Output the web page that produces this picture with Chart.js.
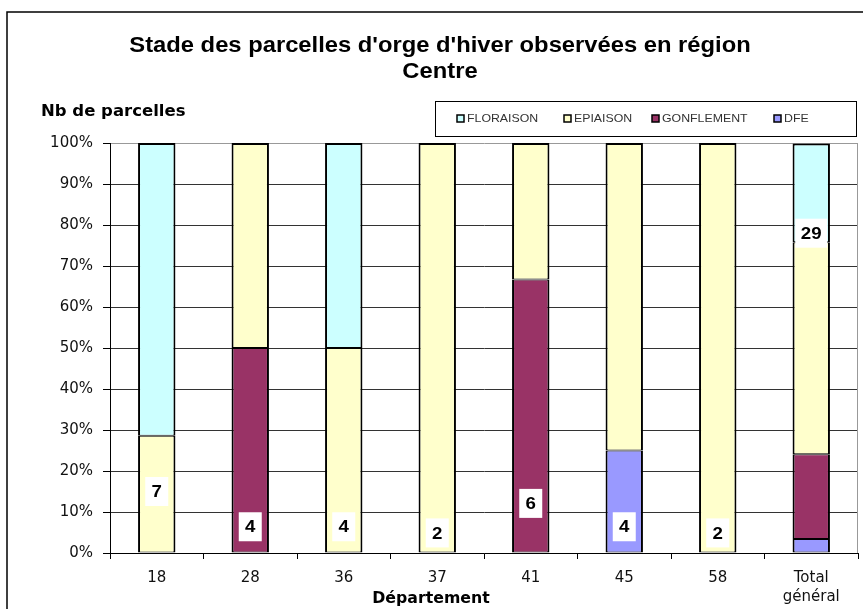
<!DOCTYPE html>
<html>
<head>
<meta charset="utf-8">
<script src="https://cdn.jsdelivr.net/npm/chart.js@4.4.1/dist/chart.umd.min.js"></script>
<style>
  html, body { margin: 0; padding: 0; background: #fff; }
  #wrap { width: 863px; height: 609px; position: relative; }
</style>
</head>
<body>
<div id="wrap"><canvas id="stadeChart"></canvas></div>
<script>
const categories = ['18', '28', '36', '37', '41', '45', '58', ['Total', 'général']];
// part des parcelles (%) par stade
const floraison  = [71.4, 0, 50, 0, 0, 0, 0, 24.1];
const epiaison   = [28.6, 50, 50, 100, 33.3, 75, 100, 51.7];
const gonflement = [0, 50, 0, 0, 66.7, 0, 0, 20.7];
const dfe        = [0, 0, 0, 0, 0, 25, 0, 3.4];
// nombre de parcelles observées
const totals = [7, 4, 4, 2, 6, 4, 2, 29];
const yTicks = [0, 10, 20, 30, 40, 50, 60, 70, 80, 90, 100];

const FONT = '"Liberation Sans", Arial, sans-serif';
const WIDE = '"DejaVu Sans", sans-serif';

// hauteur (en %) où Excel a posé l'étiquette du total
const labelAt = [15, 6.4, 6.4, 4.9, 12.1, 6.4, 4.9, 78];

// texte un peu élargi, comme le rendu GDI de l'original
function wideText(c, txt, x, y, sx) {
  c.save();
  c.translate(x, y);
  c.scale(sx, 1);
  c.fillText(txt, 0, 0);
  c.restore();
}

const decor = {
  id: 'decor',
  beforeDraw(chart) {
    const c = chart.ctx;
    c.save();
    c.fillStyle = '#fff';
    c.fillRect(0, 0, chart.width, chart.height);
    c.strokeStyle = '#000';
    c.lineWidth = 1.5;
    c.strokeRect(7, 12, chart.width + 10, chart.height + 10);

    c.fillStyle = '#000';
    c.textAlign = 'center';
    c.textBaseline = 'middle';
    c.font = 'bold 22px ' + FONT;
    wideText(c, "Stade des parcelles d'orge d'hiver observées en région", 440, 46, 1.08);
    wideText(c, 'Centre', 440, 72, 1.08);

    c.textAlign = 'left';
    c.font = 'bold 15px ' + WIDE;
    wideText(c, 'Nb de parcelles', 41, 112, 1.1);

    c.textAlign = 'center';
    wideText(c, 'Département', 431, 599, 1.05);

    // légende encadrée
    c.strokeStyle = '#000';
    c.lineWidth = 1;
    c.strokeRect(435.5, 101.5, 421, 35);
    c.font = '11px ' + FONT;
    c.textAlign = 'left';
    const items = chart.data.datasets.slice().reverse();
    const itemX = [457, 564, 652, 774];
    items.forEach((ds, i) => {
      const x = itemX[i];
      c.fillStyle = ds.backgroundColor;
      c.fillRect(x, 115, 7, 7);
      c.strokeStyle = '#000';
      c.lineWidth = 1.5;
      c.strokeRect(x, 115, 7, 7);
      c.fillStyle = '#333';
      wideText(c, ds.label, x + 10, 119, 1.12);
    });
    c.restore();
  },
  afterDatasetsDraw(chart) {
    const c = chart.ctx;
    const xs = chart.scales.x, ys = chart.scales.y, a = chart.chartArea;
    c.save();
    c.strokeStyle = '#999';
    c.lineWidth = 1;
    c.beginPath();
    c.moveTo(a.right - 0.5, a.top);
    c.lineTo(a.right - 0.5, a.bottom);
    c.stroke();

    c.font = 'bold 17px ' + FONT;
    c.textAlign = 'center';
    c.textBaseline = 'middle';
    totals.forEach((t, i) => {
      const px = xs.getPixelForValue(i);
      const py = ys.getPixelForValue(labelAt[i]);
      const w = String(t).length > 1 ? 32 : 23;
      c.fillStyle = '#fff';
      c.fillRect(px - w / 2, py - 14.5, w, 29);
      c.fillStyle = '#000';
      wideText(c, String(t), px, py + 1, 1.1);
    });
    c.restore();
  }
};

// segment du haut : bord supérieur plein (2px), sinon 1px pour ne pas doubler
function segBorder(ctx) {
  if (!ctx.raw) return 0;
  const sets = ctx.chart.data.datasets;
  const above = sets.slice(ctx.datasetIndex + 1).some(ds => ds.data[ctx.dataIndex]);
  return { top: above ? 1 : 2, bottom: 1, left: 2, right: 2 };
}

function barSet(label, data, color) {
  return {
    label, data,
    backgroundColor: color,
    borderColor: '#000',
    borderWidth: segBorder,
    borderSkipped: false,
    barPercentage: 0.4,
    categoryPercentage: 1
  };
}

new Chart(document.getElementById('stadeChart'), {
  type: 'bar',
  data: {
    labels: categories,
    datasets: [
      barSet('DFE', dfe, '#9999FF'),
      barSet('GONFLEMENT', gonflement, '#993366'),
      barSet('EPIAISON', epiaison, '#FFFFCC'),
      barSet('FLORAISON', floraison, '#CCFFFF')
    ]
  },
  options: {
    responsive: true,
    maintainAspectRatio: false,
    animation: false,
    layout: { padding: { left: 0, right: 5, top: 143, bottom: 0 } },
    plugins: { legend: { display: false }, tooltip: { enabled: false } },
    scales: {
      x: {
        stacked: true,
        afterFit: s => { s.height = 56; },
        grid: { offset: true, drawOnChartArea: false, tickLength: 6, tickColor: '#000' },
        border: { color: '#000', width: 1 },
        ticks: {
          color: '#111', font: { family: WIDE, size: 15, lineHeight: 1.25 },
          padding: 10, maxRotation: 0
        }
      },
      y: {
        stacked: true,
        min: 0, max: 100,
        afterFit: s => { s.width = 110; },
        afterBuildTicks: s => { s.ticks = yTicks.map(v => ({ value: v })); },
        grid: {
          color: ctx => (ctx.tick && ctx.tick.value === 100 ? '#999' : '#333'),
          tickColor: '#000', tickLength: 7, lineWidth: 1
        },
        border: { color: '#000', width: 1 },
        ticks: {
          color: '#111', font: { family: WIDE, size: 15 }, padding: 10,
          callback: v => v + '%'
        }
      }
    }
  },
  plugins: [decor]
});
</script>
</body>
</html>
